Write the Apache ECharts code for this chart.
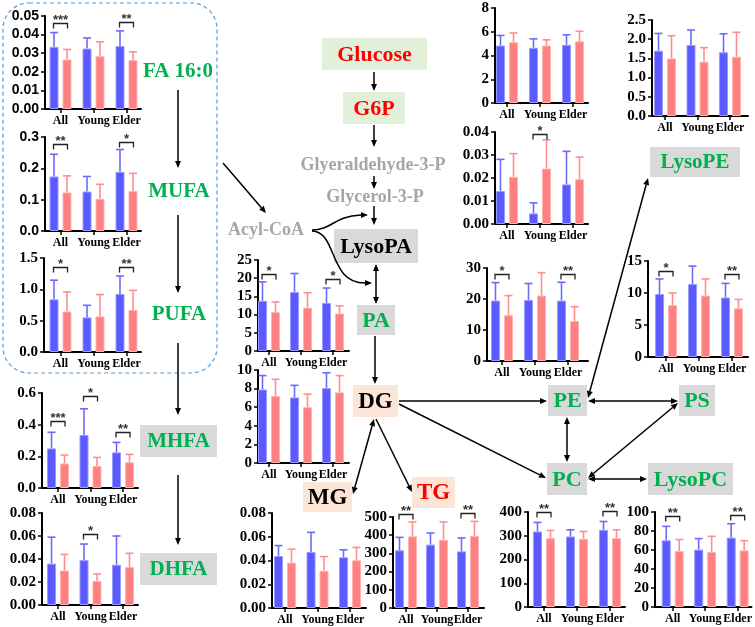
<!DOCTYPE html>
<html><head><meta charset="utf-8">
<script src="https://cdn.jsdelivr.net/npm/echarts@6/dist/echarts.min.js"></script>
<style>html,body{margin:0;padding:0;background:#fff}#c{width:755px;height:627px}</style>
</head><body><div id="c"></div>
<script>
const categories = ['All', 'Young', 'Elder'];

// FA 16:0
const faBlue = [0.0334, 0.0325, 0.0338];
const faBlueSD = [0.0077, 0.0057, 0.0082];
const faPink = [0.0266, 0.0284, 0.0263];
const faPinkSD = [0.0054, 0.0077, 0.0044];
const faSig = ['***', '', '**'];
const faSigY = [0.0462, null, 0.0466];
// MUFA
const mufaBlue = [0.174, 0.126, 0.189];
const mufaBlueSD = [0.071, 0.048, 0.071];
const mufaPink = [0.123, 0.103, 0.128];
const mufaPinkSD = [0.053, 0.046, 0.056];
const mufaSig = ['**', '', '*'];
const mufaSigY = [0.279, null, 0.284];
// PUFA
const pufaBlue = [0.84, 0.552, 0.927];
const pufaBlueSD = [0.306, 0.193, 0.286];
const pufaPink = [0.646, 0.568, 0.672];
const pufaPinkSD = [0.312, 0.349, 0.312];
const pufaSig = ['*', '', '**'];
const pufaSigY = [1.36, null, 1.36];
// MHFA
const mhfaBlue = [0.25, 0.335, 0.225];
const mhfaBlueSD = [0.102, 0.165, 0.063];
const mhfaPink = [0.155, 0.138, 0.163];
const mhfaPinkSD = [0.053, 0.055, 0.049];
const mhfaSig = ['***', '*', '**'];
const mhfaSigY = [0.426, 0.579, 0.352];
// DHFA
const dhfaBlue = [0.036, 0.039, 0.035];
const dhfaBlueSD = [0.023, 0.014, 0.025];
const dhfaPink = [0.030, 0.021, 0.033];
const dhfaPinkSD = [0.014, 0.006, 0.012];
const dhfaSig = ['', '*', ''];
const dhfaSigY = [null, 0.062, null];
// centre panel beside PA (0-25)
const paBlue = [13.8, 16.2, 13.2];
const paBlueSD = [5.2, 5.1, 4.1];
const paPink = [10.7, 11.9, 10.3];
const paPinkSD = [2.8, 4.1, 2.1];
const paSig = ['*', '', '*'];
const paSigY = [21.1, null, 19.7];
// centre panel beside DG (0-10)
const dgBlue = [7.9, 7.05, 8.05];
const dgBlueSD = [1.5, 1.3, 1.65];
const dgPink = [7.2, 6.0, 7.6];
const dgPinkSD = [1.8, 1.4, 1.8];
const dgSig = ['', '', ''];
const dgSigY = [null, null, null];
// MG
const mgBlue = [0.0438, 0.0472, 0.0427];
const mgBlueSD = [0.0088, 0.0165, 0.0063];
const mgPink = [0.0382, 0.0314, 0.0402];
const mgPinkSD = [0.0113, 0.0119, 0.0108];
const mgSig = ['', '', ''];
const mgSigY = [null, null, null];
// TG
const tgBlue = [317, 348, 311];
const tgBlueSD = [71, 64, 74];
const tgPink = [394, 375, 396];
const tgPinkSD = [79, 98, 80];
const tgSig = ['**', '', '**'];
const tgSigY = [518, null, 522];
// top right panel (0-8)
const topABlue = [4.84, 4.65, 4.9];
const topABlueSD = [0.85, 0.75, 0.84];
const topAPink = [5.12, 4.84, 5.2];
const topAPinkSD = [0.78, 0.48, 0.84];
const topASig = ['', '', ''];
const topASigY = [null, null, null];
// top right panel (0-2.5)
const topBBlue = [1.70, 1.85, 1.66];
const topBBlueSD = [0.45, 0.39, 0.48];
const topBPink = [1.5, 1.415, 1.545];
const topBPinkSD = [0.59, 0.365, 0.635];
const topBSig = ['', '', ''];
const topBSigY = [null, null, null];
// right panel (0-0.04)
const midCBlue = [0.0143, 0.0046, 0.0172];
const midCBlueSD = [0.0138, 0.0046, 0.0144];
const midCPink = [0.0205, 0.0241, 0.0195];
const midCPinkSD = [0.0101, 0.0125, 0.0096];
const midCSig = ['', '*', ''];
const midCSigY = [null, 0.0393, null];
// right panel (0-30)
const midDBlue = [19.5, 19.7, 19.5];
const midDBlueSD = [5.8, 5.3, 5.9];
const midDPink = [14.8, 21.1, 12.9];
const midDPinkSD = [6.3, 7.4, 4.6];
const midDSig = ['*', '', '**'];
const midDSigY = [28.1, null, 28.1];
// right panel (0-15)
const midEBlue = [9.84, 11.4, 9.3];
const midEBlueSD = [2.36, 2.8, 2.2];
const midEPink = [8.1, 9.6, 7.6];
const midEPinkSD = [1.9, 2.6, 1.4];
const midESig = ['*', '', '**'];
const midESigY = [13.5, null, 13.0];
// PC panel (0-400)
const pcBlue = [318, 297, 325];
const pcBlueSD = [38, 28, 35];
const pcPink = [290, 287, 290];
const pcPinkSD = [32, 31, 35];
const pcSig = ['**', '', '**'];
const pcSigY = [400, null, 403];
// LysoPC panel (0-100)
const lpcBlue = [70.2, 60.4, 73];
const lpcBlueSD = [14.7, 11.6, 14.7];
const lpcPink = [59, 57.9, 59.6];
const lpcPinkSD = [12, 16.5, 10.2];
const lpcSig = ['**', '', '**'];
const lpcSigY = [95.4, null, 97.2];

// layout of each small panel (pixels)
const panels = [
  {b: faBlue, bs: faBlueSD, p: faPink, ps: faPinkSD, sg: faSig, sy: faSigY, max: 0.05, iv: 0.01, dec: 2, L: 45, c0: 60.5, s: 33, R: 141, top: 16, bottom: 109, sans: true},
  {b: mufaBlue, bs: mufaBlueSD, p: mufaPink, ps: mufaPinkSD, sg: mufaSig, sy: mufaSigY, max: 0.3, iv: 0.1, dec: 1, L: 45, c0: 60.5, s: 33, R: 141, top: 137, bottom: 231, sans: true},
  {b: pufaBlue, bs: pufaBlueSD, p: pufaPink, ps: pufaPinkSD, sg: pufaSig, sy: pufaSigY, max: 1.5, iv: 0.5, dec: 1, L: 44, c0: 60.5, s: 33, R: 141, top: 258, bottom: 352},
  {b: mhfaBlue, bs: mhfaBlueSD, p: mhfaPink, ps: mhfaPinkSD, sg: mhfaSig, sy: mhfaSigY, max: 0.6, iv: 0.2, dec: 1, L: 42, c0: 58, s: 32.5, R: 138, top: 393, bottom: 488},
  {b: dhfaBlue, bs: dhfaBlueSD, p: dhfaPink, ps: dhfaPinkSD, sg: dhfaSig, sy: dhfaSigY, max: 0.08, iv: 0.02, dec: 2, L: 42, c0: 58, s: 32.5, R: 138, top: 513, bottom: 605},
  {b: paBlue, bs: paBlueSD, p: paPink, ps: paPinkSD, sg: paSig, sy: paSigY, max: 25, iv: 5, dec: 0, L: 258, c0: 269, s: 32, R: 349, top: 260, bottom: 351},
  {b: dgBlue, bs: dgBlueSD, p: dgPink, ps: dgPinkSD, sg: dgSig, sy: dgSigY, max: 10, iv: 2, dec: 0, L: 258, c0: 269, s: 32, R: 349, top: 370, bottom: 463},
  {b: mgBlue, bs: mgBlueSD, p: mgPink, ps: mgPinkSD, sg: mgSig, sy: mgSigY, max: 0.08, iv: 0.02, dec: 2, L: 272, c0: 285, s: 32.5, R: 366, top: 513, bottom: 608},
  {b: tgBlue, bs: tgBlueSD, p: tgPink, ps: tgPinkSD, sg: tgSig, sy: tgSigY, max: 500, iv: 100, dec: 0, L: 393, c0: 406, s: 31, R: 484, top: 517, bottom: 608},
  {b: topABlue, bs: topABlueSD, p: topAPink, ps: topAPinkSD, sg: topASig, sy: topASigY, max: 8, iv: 2, dec: 0, L: 495, c0: 507, s: 33, R: 588, top: 8, bottom: 103},
  {b: topBBlue, bs: topBBlueSD, p: topBPink, ps: topBPinkSD, sg: topBSig, sy: topBSigY, max: 2.5, iv: 0.5, dec: 1, L: 652, c0: 665, s: 32.5, R: 748, top: 20, bottom: 116},
  {b: midCBlue, bs: midCBlueSD, p: midCPink, ps: midCPinkSD, sg: midCSig, sy: midCSigY, max: 0.04, iv: 0.01, dec: 2, L: 495, c0: 507, s: 33, R: 588, top: 132, bottom: 224},
  {b: midDBlue, bs: midDBlueSD, p: midDPink, ps: midDPinkSD, sg: midDSig, sy: midDSigY, max: 30, iv: 10, dec: 0, L: 487, c0: 502, s: 33, R: 588, top: 268, bottom: 361},
  {b: midEBlue, bs: midEBlueSD, p: midEPink, ps: midEPinkSD, sg: midESig, sy: midESigY, max: 15, iv: 5, dec: 0, L: 648, c0: 666, s: 33, R: 748, top: 261, bottom: 357},
  {b: pcBlue, bs: pcBlueSD, p: pcPink, ps: pcPinkSD, sg: pcSig, sy: pcSigY, max: 400, iv: 100, dec: 0, L: 528, c0: 544, s: 33, R: 625, top: 512, bottom: 607},
  {b: lpcBlue, bs: lpcBlueSD, p: lpcPink, ps: lpcPinkSD, sg: lpcSig, sy: lpcSigY, max: 100, iv: 20, dec: 0, L: 655, c0: 673, s: 33, R: 753, top: 512, bottom: 607}
];

const BLUE = '#5a5aff', BLUE_B = '#9a9aff', BLUE_E = '#6b6bfa';
const PINK = '#ff8080', PINK_B = '#ffb3b3', PINK_E = '#ff8e8e';
const SERIF = '"Liberation Serif", "Times New Roman", serif';
const SANS = '"Liberation Sans", Arial, sans-serif';
const GREEN = '#00b050';
const OFF = 6.5;

const grids = [], xAxes = [], yAxes = [], series = [];

function errSeries(i, means, sds, off, color) {
  return {
    type: 'custom', xAxisIndex: i, yAxisIndex: i, z: 1, silent: true, clip: false,
    data: means.map((m, k) => [k, m, m + sds[k]]),
    renderItem(params, api) {
      const a = api.coord([api.value(0), api.value(1)]);
      const b = api.coord([api.value(0), api.value(2)]);
      const x = a[0] + off;
      return {type: 'group', children: [
        {type: 'line', shape: {x1: x, y1: a[1], x2: x, y2: b[1]}, style: {stroke: color, lineWidth: 1.6}},
        {type: 'line', shape: {x1: x - 4, y1: b[1], x2: x + 4, y2: b[1]}, style: {stroke: color, lineWidth: 1.6}}
      ]};
    }
  };
}
function sigSeries(i, sig, sigY) {
  const pts = [];
  sig.forEach((s, k) => { if (s) pts.push({k: k, y: sigY[k], s: s}); });
  return {
    type: 'custom', xAxisIndex: i, yAxisIndex: i, z: 4, silent: true, clip: false,
    data: pts.map(p => [p.k, p.y]),
    renderItem(params, api) {
      const lab = pts[params.dataIndex].s;
      const c = api.coord([api.value(0), api.value(1)]);
      const xa = c[0] - 7, xb = c[0] + 7, y = Math.round(c[1]) + 0.5;
      return {type: 'group', children: [
        {type: 'polyline', shape: {points: [[xa, y + 5], [xa, y], [xb, y], [xb, y + 5]]}, style: {stroke: '#222', lineWidth: 1.3, fill: 'none'}},
        {type: 'text', x: c[0], y: y + 3, style: {text: lab, align: 'center', verticalAlign: 'bottom', font: 'bold 13px ' + SANS, fill: '#333'}}
      ]};
    }
  };
}

panels.forEach((pn, i) => {
  grids.push({left: pn.L, top: pn.top, width: pn.R - pn.L, height: pn.bottom - pn.top});
  xAxes.push({
    gridIndex: i, type: 'value', min: (pn.L - pn.c0) / pn.s, max: (pn.R - pn.c0) / pn.s,
    splitLine: {show: false},
    axisLine: {show: true, onZero: false, lineStyle: {color: '#000', width: 2}},
    axisTick: {show: true, customValues: [0, 1, 2], length: 4, lineStyle: {color: '#000', width: 1.5}},
    axisLabel: {show: true, customValues: [0, 1, 2], formatter: v => categories[Math.round(v)],
      margin: 6, color: '#000', fontFamily: SERIF, fontWeight: 'bold', fontSize: 12}
  });
  yAxes.push({
    gridIndex: i, type: 'value', min: 0, max: pn.max, interval: pn.iv,
    splitLine: {show: false},
    axisLine: {show: true, onZero: false, lineStyle: {color: '#000', width: 2}},
    axisTick: {show: true, length: 4, lineStyle: {color: '#000', width: 1.5}},
    axisLabel: {margin: 6, color: '#000', fontWeight: 'bold',
      fontFamily: pn.sans ? SANS : SERIF, fontSize: pn.sans ? 14 : 15,
      formatter: v => Number(v).toFixed(pn.dec)}
  });
  series.push({type: 'bar', xAxisIndex: i, yAxisIndex: i, barWidth: 9, barGap: '44%', silent: true,
    data: pn.b.map((v, k) => [k, v]), itemStyle: {color: BLUE, borderColor: BLUE_B, borderWidth: 1}});
  series.push({type: 'bar', xAxisIndex: i, yAxisIndex: i, barWidth: 9, barGap: '44%', silent: true,
    data: pn.p.map((v, k) => [k, v]), itemStyle: {color: PINK, borderColor: PINK_B, borderWidth: 1}});
  series.push(errSeries(i, pn.b, pn.bs, -OFF, BLUE_E));
  series.push(errSeries(i, pn.p, pn.ps, OFF, PINK_E));
  if (pn.sg.some(s => s)) series.push(sigSeries(i, pn.sg, pn.sy));
});

// ---- pathway diagram ----
const G = [];
function box(x1, y1, x2, y2, bg, label, color, size) {
  G.push({type: 'rect', shape: {x: x1, y: y1, width: x2 - x1, height: y2 - y1}, style: {fill: bg}, z: 5});
  G.push({type: 'text', x: (x1 + x2) / 2, y: (y1 + y2) / 2 + 1, z: 6,
    style: {text: label, fill: color, font: 'bold ' + size + 'px ' + SERIF, align: 'center', verticalAlign: 'middle'}});
}
function label(x, y, text, color, size) {
  G.push({type: 'text', x: x, y: y, z: 6,
    style: {text: text, fill: color, font: 'bold ' + size + 'px ' + SERIF, align: 'center', verticalAlign: 'middle'}});
}
function head(tx, ty, fx, fy) {
  const dx = tx - fx, dy = ty - fy, len = Math.hypot(dx, dy);
  const ux = dx / len, uy = dy / len, L = 7, W = 3;
  const bx = tx - ux * L, by = ty - uy * L;
  G.push({type: 'polygon', z: 5, shape: {points: [[tx, ty], [bx - uy * W, by + ux * W], [bx + uy * W, by - ux * W]]}, style: {fill: '#000'}});
  return [bx, by];
}
function arrow(x1, y1, x2, y2, both) {
  let a = [x1, y1], b = [x2, y2];
  b = head(x2, y2, x1, y1);
  if (both) a = head(x1, y1, x2, y2);
  G.push({type: 'line', z: 5, shape: {x1: a[0], y1: a[1], x2: b[0], y2: b[1]}, style: {stroke: '#000', lineWidth: 1.5}});
}

// dashed group outline
G.push({type: 'rect', z: 0, shape: {x: 3, y: 3, width: 214, height: 370, r: 26},
  style: {fill: 'none', stroke: '#5b9bd5', lineWidth: 1.2, lineDash: [4, 3]}});

label(178, 72, 'FA 16:0', GREEN, 21);
label(179, 192, 'MUFA', GREEN, 21);
label(179, 315, 'PUFA', GREEN, 21);
box(140, 425, 217, 457, '#d9d9d9', 'MHFA', GREEN, 21);
box(140, 553, 217, 585, '#d9d9d9', 'DHFA', GREEN, 21);
arrow(178, 90, 178, 168);
arrow(178, 215, 178, 293);
arrow(178, 343, 178, 415);
arrow(178, 475, 178, 545);
arrow(223, 163, 266, 213);

box(322, 38, 427, 70, '#e2f0d9', 'Glucose', '#ff0000', 22);
arrow(374, 72, 374, 91);
box(343, 92, 405, 124, '#e2f0d9', 'G6P', '#ff0000', 22);
arrow(374, 125, 374, 147);
label(373, 165, 'Glyeraldehyde-3-P', '#a6a6a6', 18);
arrow(374, 176, 374, 189);
label(375, 197, 'Glycerol-3-P', '#a6a6a6', 18);
arrow(374, 206, 374, 225);
box(334, 229, 418, 263, '#d9d9d9', 'LysoPA', '#000', 22);
label(266, 230, 'Acyl-CoA', '#a6a6a6', 18);
G.push({type: 'bezierCurve', z: 5, shape: {x1: 312, y1: 230, cpx1: 332, cpy1: 230, cpx2: 334, cpy2: 216, x2: 361, y2: 215},
  style: {stroke: '#000', lineWidth: 1.5, fill: 'none'}});
head(368, 215, 360, 215);
G.push({type: 'bezierCurve', z: 5, shape: {x1: 312, y1: 231, cpx1: 338, cpy1: 232, cpx2: 328, cpy2: 283, x2: 365, y2: 283},
  style: {stroke: '#000', lineWidth: 1.5, fill: 'none'}});
head(372, 283, 364, 283);
arrow(376, 264, 376, 304, true);
box(357, 305, 395, 335, '#d9d9d9', 'PA', GREEN, 22);
arrow(375, 336, 375, 384);
box(353, 385, 398, 417, '#fbe5d6', 'DG', '#000', 23);
box(303, 482, 352, 512, '#fbe5d6', 'MG', '#000', 23);
box(412, 477, 455, 508, '#fbe5d6', 'TG', '#ff0000', 23);
arrow(374, 419, 353, 494, true);
arrow(376, 419, 412, 492);
box(548, 385, 587, 416, '#d9d9d9', 'PE', GREEN, 22);
box(679, 385, 715, 416, '#d9d9d9', 'PS', GREEN, 22);
box(547, 463, 587, 495, '#d9d9d9', 'PC', GREEN, 22);
box(648, 463, 733, 495, '#d9d9d9', 'LysoPC', GREEN, 22);
box(650, 147, 740, 177, '#d9d9d9', 'LysoPE', GREEN, 21);
arrow(399, 401, 547, 401);
arrow(399, 404, 546, 478);
arrow(567, 417, 567, 462, true);
arrow(588, 401, 678, 401, true);
arrow(588, 478, 678, 403, true);
arrow(588, 479, 647, 479, true);
arrow(588, 398, 648, 178, true);

const chart = echarts.init(document.getElementById('c'), null, {renderer: 'canvas'});
chart.setOption({
  animation: false,
  backgroundColor: '#fff',
  grid: grids, xAxis: xAxes, yAxis: yAxes, series: series,
  graphic: {elements: G}
});
</script></body></html>
